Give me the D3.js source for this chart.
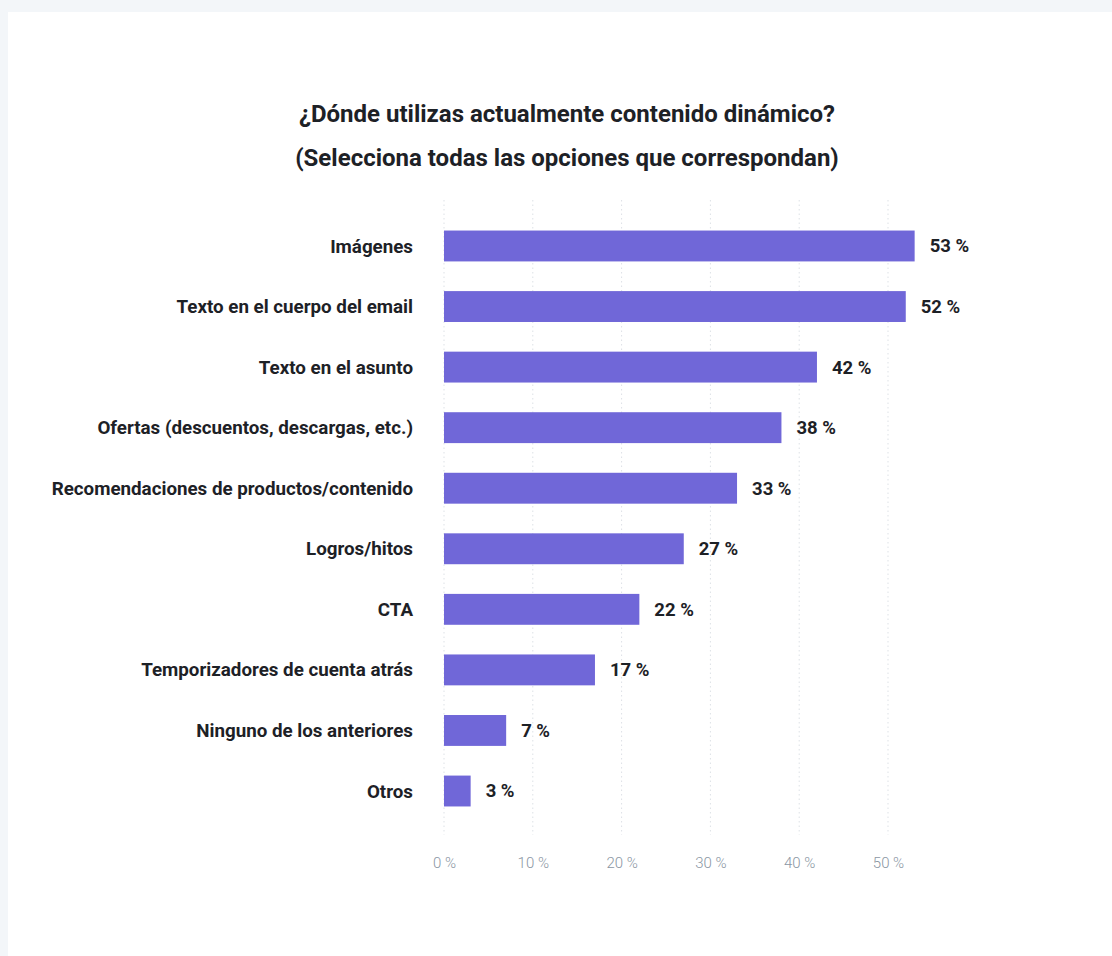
<!DOCTYPE html>
<html>
<head>
<meta charset="utf-8">
<script src="https://cdn.jsdelivr.net/npm/d3@7"></script>
<style>
  html, body { margin: 0; padding: 0; background: #f3f6f9; }
  svg { display: block; }
</style>
</head>
<body>
<svg id="chart" width="1112" height="956"></svg>
<script>
// Survey answers, top to bottom
const categories = [
  "Imágenes",
  "Texto en el cuerpo del email",
  "Texto en el asunto",
  "Ofertas (descuentos, descargas, etc.)",
  "Recomendaciones de productos/contenido",
  "Logros/hitos",
  "CTA",
  "Temporizadores de cuenta atrás",
  "Ninguno de los anteriores",
  "Otros"
];
const values = [53, 52, 42, 38, 33, 27, 22, 17, 7, 3];
const tickValues = [0, 10, 20, 30, 40, 50];
const titleLines = [
  "¿Dónde utilizas actualmente contenido dinámico?",
  "(Selecciona todas las opciones que correspondan)"
];

const svg = d3.select("#chart");
const font = "Roboto, 'Noto Sans', sans-serif";
const textColor = "#1d2126";

// white card
svg.append("rect")
  .attr("x", 8).attr("y", 12)
  .attr("width", 1112 - 8).attr("height", 956 - 12)
  .attr("fill", "#ffffff");

// title
svg.append("g").selectAll("text")
  .data(titleLines)
  .join("text")
  .attr("x", 567)
  .attr("y", (d, i) => 122 + i * 44)
  .attr("text-anchor", "middle")
  .attr("font-family", font)
  .attr("font-weight", 700)
  .attr("font-size", 24)
  .attr("fill", textColor)
  .text(d => d);

const x = d3.scaleLinear().domain([0, 50]).range([444, 888]);
const y = d3.scaleBand().domain(categories).range([215.7, 821.3])
  .paddingInner(0.49).paddingOuter(0.245);

// dotted vertical gridlines
svg.append("g").selectAll("line")
  .data(tickValues)
  .join("line")
  .attr("x1", d => x(d)).attr("x2", d => x(d))
  .attr("y1", 200).attr("y2", 835)
  .attr("stroke", "#dde1e6")
  .attr("stroke-width", 1)
  .attr("stroke-dasharray", "1.5,3");

// x axis tick labels
const xAxis = d3.axisBottom(x)
  .tickValues(tickValues)
  .tickSize(0)
  .tickPadding(0)
  .tickFormat(d => d + " %");
const gx = svg.append("g")
  .attr("transform", "translate(0,868)")
  .call(xAxis);
gx.select(".domain").remove();
gx.selectAll("text")
  .attr("dy", 0)
  .attr("font-family", font)
  .attr("font-size", 15)
  .attr("font-weight", 300)
  .attr("fill", "#8a96a3");

// bars
svg.append("g").selectAll("rect")
  .data(values)
  .join("rect")
  .attr("x", x(0))
  .attr("y", (d, i) => y(categories[i]))
  .attr("width", d => x(d) - x(0))
  .attr("height", y.bandwidth())
  .attr("fill", "#7067d8");

// category labels
svg.append("g").selectAll("text")
  .data(categories)
  .join("text")
  .attr("x", 413)
  .attr("y", d => y(d) + y.bandwidth() / 2)
  .attr("dy", "0.35em")
  .attr("text-anchor", "end")
  .attr("font-family", font)
  .attr("font-weight", 700)
  .attr("font-size", 18.75)
  .attr("fill", textColor)
  .text(d => d);

// value labels
svg.append("g").selectAll("text")
  .data(values)
  .join("text")
  .attr("x", d => x(d) + 15)
  .attr("y", (d, i) => y(categories[i]) + y.bandwidth() / 2)
  .attr("dy", "0.35em")
  .attr("font-family", font)
  .attr("font-weight", 700)
  .attr("font-size", 18.5)
  .attr("fill", textColor)
  .text(d => d + " %");
</script>
</body>
</html>
